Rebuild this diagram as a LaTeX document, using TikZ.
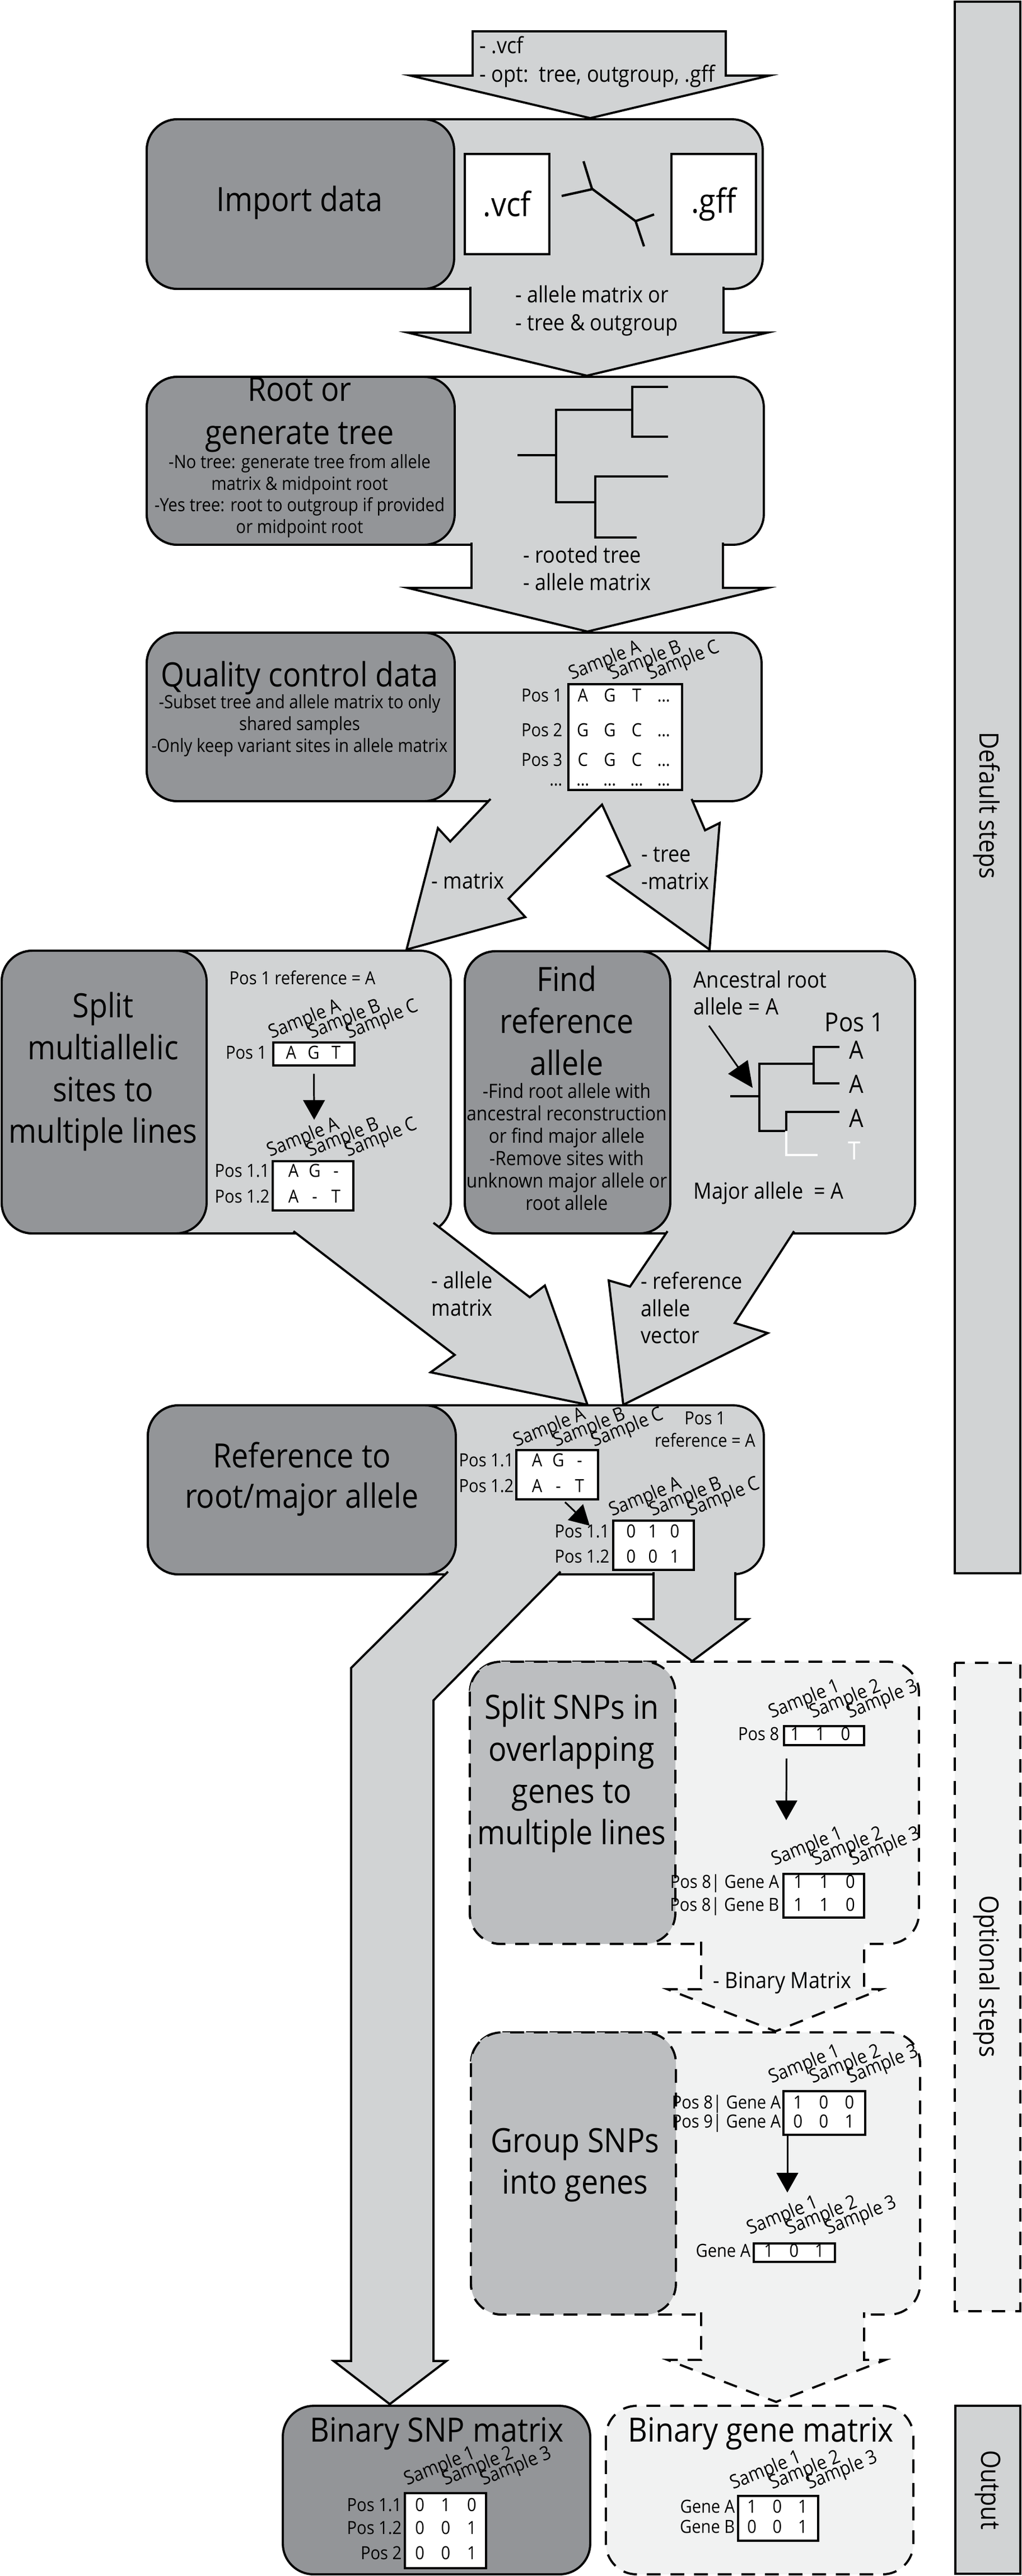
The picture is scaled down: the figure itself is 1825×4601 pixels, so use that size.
\documentclass[tikz,border=0pt]{standalone}
\usepackage{fontspec}
\setmainfont{Open Sans}[FakeStretch=0.9]
\usetikzlibrary{arrows.meta,calc}
\definecolor{darkgrey}{HTML}{939598}
\definecolor{lightgrey}{HTML}{D1D3D4}
\definecolor{optgrey}{HTML}{BCBEC0}
\definecolor{optlight}{HTML}{F1F2F2}
\newcommand\cells[4]{\makebox[#1]{#2}\makebox[#1]{#3}\makebox[#1]{#4}}

\begin{document}
\begin{tikzpicture}[x=0.01cm,y=-0.01cm,
    stepbox/.style={draw,line width=1.1pt,rounded corners=0.55cm},
    dashline/.style={dash pattern=on 7pt off 5pt},
    darkstep/.style={stepbox,fill=darkgrey},
    lightstep/.style={stepbox,fill=lightgrey},
    optdarkstep/.style={stepbox,fill=optgrey,dashline},
    optlightstep/.style={stepbox,fill=optlight,dashline},
    blockarrow/.style={draw,fill=lightgrey,line width=1.1pt},
    optarrow/.style={draw,fill=optlight,line width=1.1pt,dashline},
    steptitle/.style={font=\fontsize{17}{21.3}\selectfont,align=center,inner sep=0},
    arrowlbl/.style={font=\fontsize{11.4}{14}\selectfont,align=left,anchor=west,inner sep=0},
    smalltxt/.style={font=\fontsize{9.2}{11.2}\selectfont,inner sep=0},
    celltxt/.style={smalltxt,text height=7pt,text depth=2pt},
    rowlbl/.style={celltxt,anchor=east},
    samplelbl/.style={smalltxt,font=\fontsize{9.8}{11.2}\selectfont,rotate=22,anchor=base west},
    mbox/.style={draw,fill=white,line width=1.1pt,inner sep=0},
    treeline/.style={line width=1pt},
    pointer/.style={line width=0.85pt,-{Triangle[length=10pt,width=11pt]}},
    sidebar/.style={draw,line width=1.1pt},
    sidetxt/.style={font=\fontsize{13.5}{16}\selectfont,rotate=-90,inner sep=0}]
\useasboundingbox (0,0) rectangle (1825,4601);

\draw[sidebar,fill=lightgrey] (1705,3) rectangle (1822,2810);
\node[sidetxt] (side1) at (1762,1439) {Default steps};
\draw[sidebar,fill=optlight,dashline] (1705,2970) rectangle (1822,4128);
\node[sidetxt] (side2) at (1762,3530) {Optional steps};
\draw[sidebar,fill=lightgrey] (1706,4297) rectangle (1822,4597);
\node[sidetxt] (side3) at (1764,4447) {Output};

\filldraw[blockarrow] (844,56) -- (1296,56) -- (1296,135) -- (1374,135) -- (1054,211) -- (733,135) -- (844,135) -- cycle;
\node[arrowlbl,font=\fontsize{11.4}{14.5}\selectfont] (input) at (856,110) {- .vcf\\- opt:\ \ tree, outgroup, .gff};

\draw[lightstep] (262,213) rectangle (1362,516);
\draw[darkstep] (262,213) rectangle (811,516);
\node[steptitle] (imp) at (535,362) {Import data};
\node[mbox,steptitle,minimum width=1.51cm,minimum height=1.79cm] (vcf) at (905.5,364.5) {.vcf};
\node[mbox,steptitle,minimum width=1.51cm,minimum height=1.79cm] (gff) at (1274.5,364.5) {.gff};
\draw[treeline,line width=1.2pt] (1042,288) -- (1057,337) -- (1135,395) -- (1150,440)
    (1003,350) -- (1057,338) (1135,395) -- (1168,383);
\filldraw[blockarrow] (840,512) -- (840,594) -- (728,594) -- (1048,671) -- (1371,594) -- (1292,594) -- (1292,512);
\node[arrowlbl] (imp-out) at (920,555) {- allele matrix or\\- tree \& outgroup};

\draw[lightstep] (262,673) rectangle (1364,973);
\draw[darkstep] (262,673) rectangle (812,973);
\node[steptitle,font=\fontsize{17}{22}\selectfont] (root) at (535,741) {Root or\\generate tree};
\node[smalltxt,align=center,font=\fontsize{9.3}{11}\selectfont] (root-txt) at (535,886)
    {-No tree: generate tree from allele\\matrix \& midpoint root\\-Yes tree: root to outgroup if provided\\or midpoint root};
\draw[treeline] (924,813) -- (993,813) (1129,732) -| (993,897) -- (1063,897)
    (1193,691) -| (1129,780) -- (1193,780) (1193,851) -| (1063,960) -- (1137,960);
\filldraw[blockarrow] (842,969) -- (842,1050) -- (728,1050) -- (1049,1128) -- (1371,1050) -- (1291,1050) -- (1291,969);
\node[arrowlbl] (root-out) at (934,1015) {- rooted tree\\- allele matrix};

\draw[lightstep] (262,1130) rectangle (1360,1431);
\draw[darkstep] (262,1130) rectangle (812,1431);
\node[steptitle] (qc) at (535,1211) {Quality control data};
\node[smalltxt,align=center,font=\fontsize{9.3}{11}\selectfont] (qc-txt) at (535,1296)
    {-Subset tree and allele matrix to only\\shared samples\\-Only keep variant sites in allele matrix};
\node[mbox,minimum width=2.03cm,minimum height=1.89cm] (qcm) at (1116.5,1316.5) {};
\foreach \y/\p/\a/\b/\c in {1245/1/A/G/T,1307/2/G/G/C,1360/3/C/G/C} {
    \node[rowlbl] (qc-p\p) at (1005,\y) {Pos \p};
    \node[celltxt] (qc-c\p) at (1113,\y) {\cells{13.7pt}{\a}{\b}{\c}\makebox[13.7pt]{\dots}};
}
\node[rowlbl] (qc-p4) at (1005,1395) {\dots};
\node[celltxt] (qc-c4) at (1113,1395) {\cells{13.7pt}{\dots}{\dots}{\dots}\makebox[13.7pt]{\dots}};
\foreach \x/\s in {1021/A,1093/B,1161/C}
    \node[samplelbl] (qc-s\s) at (\x,1215) {Sample \s};
\filldraw[blockarrow] (876,1427) -- (804,1503) -- (782,1479) -- (726,1696) -- (938,1638) -- (908,1605) -- (1075,1437)
    -- (1125,1546) -- (1085,1565) -- (1267,1696) -- (1285,1470) -- (1259,1483) -- (1235,1427);
\node[arrowlbl] (qc-l) at (770,1573) {- matrix};
\node[arrowlbl] (qc-r) at (1145,1551) {- tree\\-matrix};

\draw[lightstep] (3,1698) rectangle (805,2203);
\draw[darkstep] (3,1698) rectangle (369,2203);
\node[steptitle] (split) at (184,1914) {Split\\multiallelic\\sites to\\multiple lines};
\node[smalltxt,anchor=west] (split-ref) at (409,1746) {Pos 1 reference = A};
\node[mbox,minimum width=1.45cm,minimum height=0.41cm] (sm1) at (560.5,1882.5) {};
\node[rowlbl] (sm1-p) at (477,1883) {Pos 1};
\node[celltxt] (sm1-c) at (560,1883) {\cells{11.4pt}{A}{G}{T}};
\foreach \x/\s in {485/A,556/B,623/C}
    \node[samplelbl] (sm1-\s) at (\x,1856) {Sample \s};
\coordinate (sm-a) at (561,2000);
\draw[pointer] ($(sm1.south)+(0,13)$) -- (sm-a);
\node[mbox,minimum width=1.44cm,minimum height=0.88cm] (sm2) at (559,2118) {};
\node[rowlbl] (sm2-p1) at (482,2094) {Pos 1.1};
\node[celltxt] (sm2-c1) at (562,2094) {\cells{10.8pt}{A}{G}{-}};
\node[rowlbl] (sm2-p2) at (482,2140) {Pos 1.2};
\node[celltxt] (sm2-c2) at (562,2140) {\cells{10.8pt}{A}{-}{T}};
\foreach \x/\s in {482/A,553/B,621/C}
    \node[samplelbl] (sm2-\s) at (\x,2067) {Sample \s};

\draw[lightstep] (830,1699) rectangle (1634,2203);
\draw[darkstep] (830,1699) rectangle (1197,2203);
\node[steptitle] (find) at (1012,1823) {Find\\reference\\allele};
\node[smalltxt,align=center,font=\fontsize{10}{11.4}\selectfont] (find-txt) at (1012,2048)
    {-Find root allele with\\ancestral reconstruction\\or find major allele\\-Remove sites with\\unknown major allele or\\root allele};
\node[arrowlbl,font=\fontsize{11.5}{13.7}\selectfont] (anc) at (1238,1773) {Ancestral root\\allele = A};
\node[arrowlbl,font=\fontsize{13.3}{16}\selectfont] (pos1) at (1472,1826) {Pos 1};
\foreach \y [count=\i] in {1875,1936,1997}
    \node[font=\fontsize{12.8}{15}\selectfont,inner sep=0] (leaf\i) at (1529,\y) {A};
\node[font=\fontsize{12.8}{15}\selectfont,inner sep=0,text=white] (leaf4) at (1526,2055) {T};
\draw[treeline] (1304,1958) -- (1356,1958) (1453,1900) -| (1356,2020) -- (1404,2020)
    (1499,1870) -| (1453,1935) -- (1499,1935) (1499,1986) -| (1404,2020);
\draw[treeline,white] (1404,2020) -- (1404,2063) -- (1460,2063);
\coordinate (anc-a) at (1266,1832);
\coordinate (anc-b) at (1344,1943);
\draw[pointer,-{Triangle[length=13pt,width=12pt]}] (anc-a) -- (anc-b);
\node[arrowlbl] (major) at (1238,2131) {Major allele\ \ = A};

\filldraw[blockarrow] (524,2199) -- (812,2420) -- (769,2451) -- (1049,2509) -- (973,2296) -- (946,2317) -- (774,2184);
\node[arrowlbl] (split-out) at (770,2311) {- allele\\matrix};
\filldraw[blockarrow] (1192,2199) -- (1125,2298) -- (1087,2287) -- (1113,2509) -- (1371,2381) -- (1312,2363) -- (1418,2199);
\node[arrowlbl,font=\fontsize{11.4}{13.8}\selectfont] (find-out) at (1144,2336) {- reference\\allele\\vector};

\draw[lightstep] (264,2510) rectangle (1364,2812);
\draw[darkstep] (264,2510) rectangle (814,2812);
\node[steptitle,font=\fontsize{17}{20.5}\selectfont] (ref) at (539,2642) {Reference to\\root/major allele};
\node[smalltxt,align=center] (ref-pos) at (1259,2553) {Pos 1\\reference = A};
\node[mbox,minimum width=1.46cm,minimum height=0.88cm] (rm1) at (995,2634) {};
\node[rowlbl] (rm1-p1) at (918,2611) {Pos 1.1};
\node[celltxt] (rm1-c1) at (997,2611) {\cells{10.8pt}{A}{G}{-}};
\node[rowlbl] (rm1-p2) at (918,2657) {Pos 1.2};
\node[celltxt] (rm1-c2) at (997,2657) {\cells{10.8pt}{A}{-}{T}};
\foreach \x/\s in {922/A,993/B,1061/C}
    \node[samplelbl] (rm1-\s) at (\x,2585) {Sample \s};
\coordinate (rm-a) at (1053,2725);
\draw[pointer] ($(rm1.south)+(14,3)$) -- (rm-a);
\node[mbox,minimum width=1.44cm,minimum height=0.88cm] (rm2) at (1167,2760) {};
\node[rowlbl] (rm2-p1) at (1089,2738) {Pos 1.1};
\node[celltxt] (rm2-c1) at (1166,2738) {\cells{11.1pt}{0}{1}{0}};
\node[rowlbl] (rm2-p2) at (1089,2783) {Pos 1.2};
\node[celltxt] (rm2-c2) at (1166,2783) {\cells{11.1pt}{0}{0}{1}};
\foreach \x/\s in {1093/A,1165/B,1233/C}
    \node[samplelbl] (rm2-\s) at (\x,2709) {Sample \s};
\filldraw[blockarrow] (1167,2808) -- (1167,2892) -- (1134,2892) -- (1236,2967) -- (1336,2892) -- (1313,2892) -- (1313,2808);
\filldraw[blockarrow] (800,2807) -- (627,2979) -- (627,4217) -- (596,4217) -- (696,4294) -- (797,4217) -- (774,4217) -- (774,3037) -- (1001,2807);

\draw[optlightstep] (839,2968) rectangle (1641,3472);
\draw[optdarkstep] (839,2968) rectangle (1206,3472);
\node[steptitle] (snp) at (1021,3167) {Split SNPs in\\overlapping\\genes to\\multiple lines};
\node[mbox,minimum width=1.43cm,minimum height=0.34cm] (pm1) at (1471.5,3100) {};
\node[rowlbl] (pm1-p) at (1392,3100) {Pos 8};
\node[celltxt] (pm1-c) at (1465,3100) {\cells{12.8pt}{1}{1}{0}};
\foreach \x/\s in {1378/1,1451/2,1517/3}
    \node[samplelbl] (pm1-\s) at (\x,3070) {Sample \s};
\coordinate (pm-a) at (1404,3251);
\draw[pointer] ($(pm1.south)+(-67,22)$) -- (pm-a);
\node[mbox,minimum width=1.44cm,minimum height=0.78cm] (pm2) at (1471,3386) {};
\node[rowlbl] (pm2-p1) at (1392,3364) {Pos 8| Gene A};
\node[celltxt] (pm2-c1) at (1472,3364) {\cells{13.2pt}{1}{1}{0}};
\node[rowlbl] (pm2-p2) at (1392,3405) {Pos 8| Gene B};
\node[celltxt] (pm2-c2) at (1472,3405) {\cells{13.2pt}{1}{1}{0}};
\foreach \x/\s in {1383/1,1455/2,1522/3}
    \node[samplelbl] (pm2-\s) at (\x,3333) {Sample \s};
\filldraw[optarrow] (1252,3468) -- (1252,3553) -- (1192,3553) -- (1385,3628) -- (1574,3553) -- (1543,3553) -- (1543,3468);
\node[arrowlbl,anchor=center] (snp-out) at (1397,3542) {- Binary Matrix};

\draw[optlightstep] (841,3630) rectangle (1643,4134);
\draw[optdarkstep] (841,3630) rectangle (1207,4134);
\node[steptitle] (grp) at (1027,3867) {Group SNPs\\into genes};
\node[mbox,minimum width=1.46cm,minimum height=0.78cm] (gm1) at (1472,3774) {};
\node[rowlbl] (gm1-p1) at (1395,3758) {Pos 8| Gene A};
\node[celltxt] (gm1-c1) at (1471,3758) {\cells{13.1pt}{1}{0}{0}};
\node[rowlbl] (gm1-p2) at (1395,3792) {Pos 9| Gene A};
\node[celltxt] (gm1-c2) at (1471,3792) {\cells{13.1pt}{0}{0}{1}};
\foreach \x/\s in {1378/1,1451/2,1518/3}
    \node[samplelbl] (gm1-\s) at (\x,3722) {Sample \s};
\coordinate (gm-a) at (1406,3916);
\draw[pointer] ($(gm1.south)+(-66,0)$) -- (gm-a);
\node[mbox,minimum width=1.45cm,minimum height=0.33cm] (gm2) at (1418.5,4023.5) {};
\node[rowlbl] (gm2-p) at (1341,4023) {Gene A};
\node[celltxt] (gm2-c) at (1418,4023) {\cells{12.9pt}{1}{0}{1}};
\foreach \x/\s in {1339/1,1409/2,1479/3}
    \node[samplelbl] (gm2-\s) at (\x,3992) {Sample \s};
\filldraw[optarrow] (1252,4130) -- (1252,4215) -- (1192,4215) -- (1386,4290) -- (1581,4215) -- (1543,4215) -- (1543,4130);

\draw[darkstep] (505,4297) rectangle (1054,4598);
\node[steptitle] (bsnp) at (780,4347) {Binary SNP matrix};
\node[mbox,minimum width=1.45cm,minimum height=1.34cm] (bm1) at (795.5,4520) {};
\foreach \y/\p/\a/\b/\c [count=\i] in {4477/1.1/0/1/0,4518/1.2/0/0/1,4563/2/0/0/1} {
    \node[rowlbl] (bm1-p\i) at (718,\y) {Pos \p};
    \node[celltxt] (bm1-c\i) at (796,\y) {\cells{13.2pt}{\a}{\b}{\c}};
}
\foreach \x/\s in {727/1,795/2,863/3}
    \node[samplelbl] (bm1-\s) at (\x,4440) {Sample \s};

\draw[optlightstep] (1082,4297) rectangle (1631,4598);
\node[steptitle] (bgene) at (1359,4347) {Binary gene matrix};
\node[mbox,minimum width=1.43cm,minimum height=0.80cm] (bm2) at (1389.5,4498) {};
\foreach \y/\g/\a/\b/\c in {4480/A/1/0/1,4516/B/0/0/1} {
    \node[rowlbl] (bm2-p\g) at (1313,\y) {Gene \g};
    \node[celltxt] (bm2-c\g) at (1388,\y) {\cells{12.9pt}{\a}{\b}{\c}};
}
\foreach \x/\s in {1309/1,1379/2,1445/3}
    \node[samplelbl] (bm2-\s) at (\x,4447) {Sample \s};
\end{tikzpicture}
\end{document}
